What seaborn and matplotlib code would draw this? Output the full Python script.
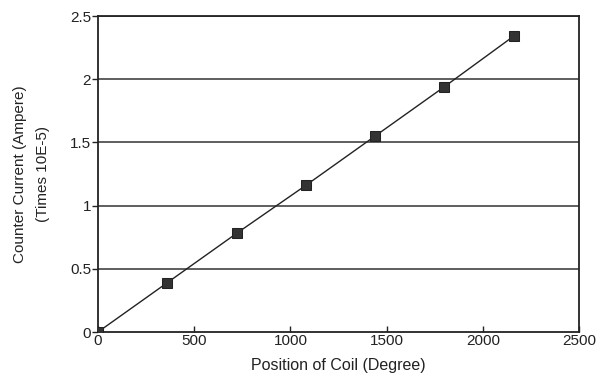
import matplotlib
matplotlib.use("Agg")
import matplotlib.pyplot as plt
import seaborn as sns
import pandas as pd

position = [0, 360, 720, 1080, 1440, 1800, 2160]
current = [0.0, 0.39, 0.78, 1.16, 1.55, 1.94, 2.34]
x_ticks = [0, 500, 1000, 1500, 2000, 2500]
y_ticks = [0, 0.5, 1, 1.5, 2, 2.5]
y_labels = ["0", "0.5", "1", "1.5", "2", "2.5"]

sns.set_theme(style="white")
plt.rcParams['font.family'] = ['Liberation Sans', 'DejaVu Sans']

df = pd.DataFrame({"pos": position, "cur": current})

fig = plt.figure(figsize=(5.99, 3.73), dpi=100)
ax = fig.add_axes([98/599, 1 - 332/373, (579-98)/599, (332-16)/373])

for yv in y_ticks[1:]:
    ax.axhline(yv, color="#333333", lw=1.1, zorder=1)

sns.lineplot(data=df, x="pos", y="cur", ax=ax, color="#222222", lw=1.0,
             marker="s", markersize=6.5, markerfacecolor="#333333",
             markeredgecolor="#222222", zorder=3)

ax.set_xlim(0, 2500)
ax.set_ylim(0, 2.5)
ax.set_xticks(x_ticks)
ax.set_xticklabels([str(v) for v in x_ticks])
ax.set_yticks(y_ticks)
ax.set_yticklabels(y_labels)
ax.tick_params(axis="x", direction="in", length=4, width=1, colors="#222222",
               labelsize=11, pad=1.5, bottom=True)
ax.tick_params(axis="y", direction="out", length=4, width=1, colors="#222222",
               labelsize=11, pad=1, left=True)
for lab in ax.get_xticklabels() + ax.get_yticklabels():
    lab.set_color("#222222")
    lab.set_fontweight("medium")

for s in ax.spines.values():
    s.set_color("#222222")
    s.set_linewidth(1.3)

ax.set_xlabel("Position of Coil (Degree)", fontsize=11.5, color="#222222", labelpad=7)
ax.set_ylabel("Counter Current (Ampere)\n(Times 10E-5)", fontsize=11,
              color="#222222", labelpad=14, linespacing=1.85)

fig.savefig("out.png", dpi=100, facecolor="white")
